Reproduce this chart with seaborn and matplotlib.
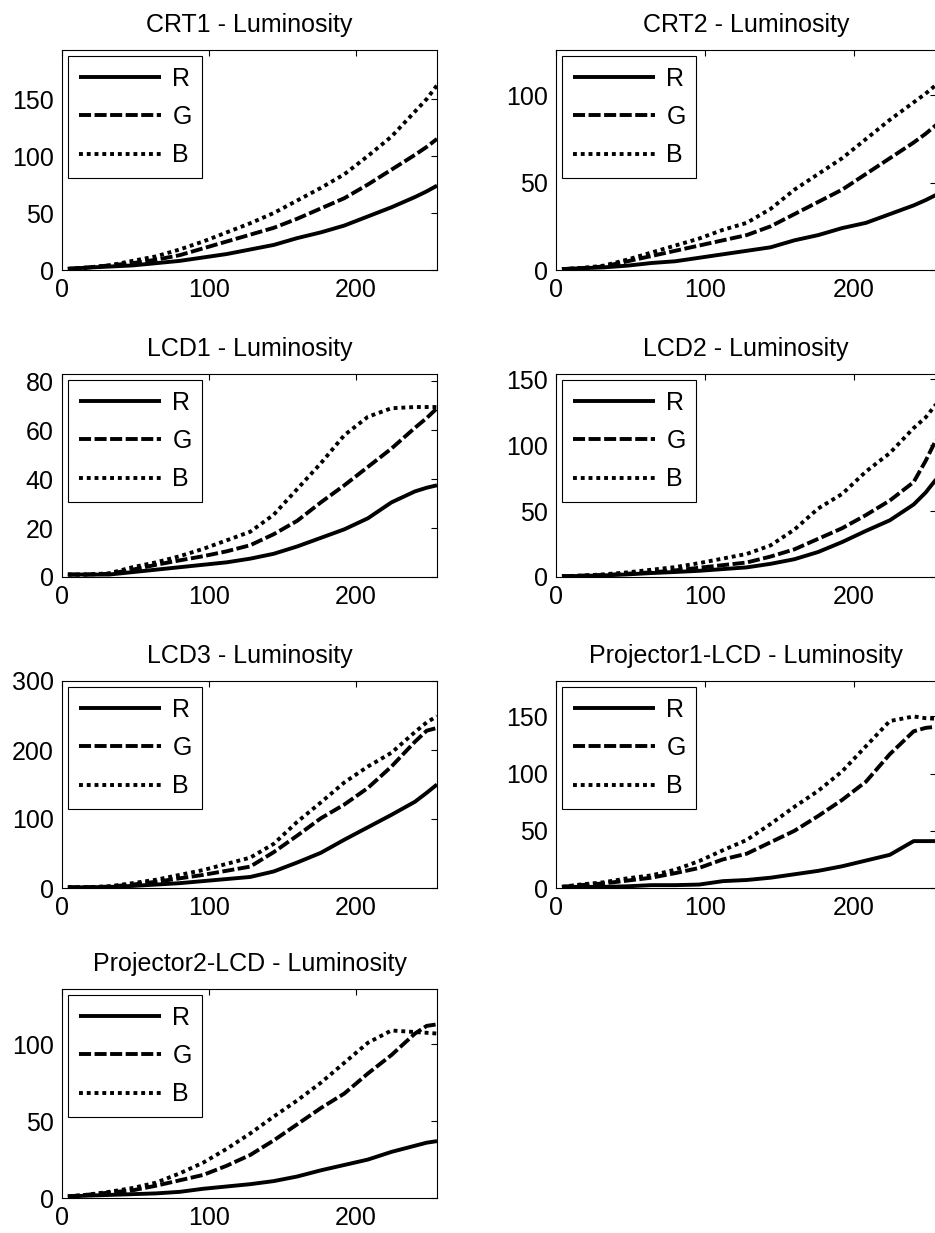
import numpy as np
import pandas as pd
import matplotlib
matplotlib.use("Agg")
import matplotlib.pyplot as plt
import seaborn as sns

# ---------------- data ----------------
x_levels = [4, 16, 32, 48, 64, 80, 96, 112, 128, 144, 160, 176, 192, 208, 224, 240, 248, 255]
channels = ["R", "G", "B"]

titles = ["CRT1 - Luminosity", "CRT2 - Luminosity", "LCD1 - Luminosity",
          "LCD2 - Luminosity", "LCD3 - Luminosity", "Projector1-LCD - Luminosity",
          "Projector2-LCD - Luminosity"]

crt1_R = [1, 2, 3, 4, 6, 8, 11, 14, 18, 22, 28, 33, 39, 47, 55, 64, 69, 74]
crt1_G = [1, 2, 4, 6, 9, 13, 19, 25, 31, 37, 45, 54, 63, 75, 88, 101, 108, 115]
crt1_B = [1, 2, 4, 8, 12, 18, 25, 33, 41, 50, 61, 72, 84, 100, 117, 139, 150, 162]

crt2_R = [0.5, 1, 1.5, 2.5, 4, 5, 7, 9, 11, 13, 17, 20, 24, 27, 32, 37, 40, 43]
crt2_G = [0.5, 1, 2, 5, 8, 11, 14, 17, 20, 25, 32, 39, 46, 55, 64, 73, 78, 83]
crt2_B = [0.5, 1, 2.5, 6, 10, 14, 18, 23, 27, 35, 46, 55, 64, 75, 86, 96, 101, 106]

lcd1_R = [1, 1, 1, 2, 3, 4, 5, 6, 7.5, 9.5, 12.5, 16, 19.5, 24, 30.5, 35, 36.5, 37.5]
lcd1_G = [1, 1, 1.3, 3, 5, 6.8, 8.5, 10.5, 13, 17.5, 23, 30.5, 37.5, 45, 52.5, 61, 65, 69]
lcd1_B = [1, 1, 1.5, 4, 6, 8.5, 11.5, 15, 18.5, 25.5, 36, 46.5, 58, 65.5, 69, 69.5, 69.5, 69.5]

lcd2_R = [0.5, 0.8, 1.2, 2, 3, 3.8, 4.7, 6, 7.3, 10, 13.5, 19, 26.5, 35, 43, 55, 64, 74]
lcd2_G = [0.5, 1, 1.5, 2.5, 3.5, 5, 7, 9, 11, 15.5, 21, 29, 37, 47, 58, 72, 88, 104]
lcd2_B = [0.5, 1, 2, 3.5, 5.5, 7.5, 10.5, 14, 17.5, 24, 36, 52, 63, 80, 94, 113, 121, 131]

lcd3_R = [1, 1, 1.5, 3, 5, 7, 10, 13, 16, 24, 37, 51, 70, 88, 106, 125, 138, 150]
lcd3_G = [1, 1, 2, 5, 9, 14, 19, 25, 31, 52, 76, 101, 121, 145, 176, 212, 228, 232]
lcd3_B = [1, 1, 2.5, 7, 12, 19, 26, 35, 44, 64, 96, 124, 153, 176, 196, 226, 240, 249]

proj1_R = [1, 1, 1, 1.5, 2.5, 2.5, 3, 6, 7, 9, 12, 15, 19, 24, 29, 41, 41, 41]
proj1_G = [1, 2.5, 4, 6.5, 9, 13, 17.5, 25, 30, 40, 50, 63, 77, 93, 117, 137, 140, 141]
proj1_B = [1, 3, 5, 8.5, 11, 16, 23.5, 33, 42, 56, 71, 85, 102, 124, 146, 150, 148.5, 148]

proj2_R = [1, 1.5, 2, 2.5, 3, 4, 6, 7.5, 9, 11, 14, 18, 21.5, 25, 30, 34, 36, 37]
proj2_G = [1, 2, 3.5, 5, 8, 11.5, 15, 21, 28, 37.5, 48, 58.5, 68, 81, 93, 107, 112, 113]
proj2_B = [1, 2, 4, 6.5, 10, 16, 23, 32, 42, 53, 63.5, 75, 88, 101, 109, 108, 107.5, 107]

series = [
    (crt1_R, crt1_G, crt1_B),
    (crt2_R, crt2_G, crt2_B),
    (lcd1_R, lcd1_G, lcd1_B),
    (lcd2_R, lcd2_G, lcd2_B),
    (lcd3_R, lcd3_G, lcd3_B),
    (proj1_R, proj1_G, proj1_B),
    (proj2_R, proj2_G, proj2_B),
]
ylims = [193, 126, 83, 154, 300, 181, 136]
yticks = [[0, 50, 100, 150], [0, 50, 100], [0, 20, 40, 60, 80], [0, 50, 100, 150],
          [0, 100, 200, 300], [0, 50, 100, 150], [0, 50, 100]]
xticks = [0, 100, 200]

# ---------------- style ----------------
sns.set_theme(style="white")
plt.rcParams["font.family"] = ["Liberation Sans", "DejaVu Sans"]
plt.rcParams["text.color"] = "black"
plt.rcParams["axes.labelcolor"] = "black"
FS = 18

W, H = 935, 1233
fig = plt.figure(figsize=(W / 100, H / 100), dpi=100)
fig.patch.set_facecolor("white")

cols = [(62, 437), (556, 936)]
rows = [(50, 270), (374, 577), (681, 888), (989, 1198)]

dash_styles = [None, (3.1, 0.9), (1.0, 1.0)]

for i in range(7):
    r, c = divmod(i, 2)
    x0, x1 = cols[c]
    y0, y1 = rows[r]
    ax = fig.add_axes([x0 / W, 1 - y1 / H, (x1 - x0) / W, (y1 - y0) / H])
    for ch, ys in zip(channels, series[i]):
        sns.lineplot(x=x_levels, y=ys, ax=ax, color="black", lw=2.8,
                     errorbar=None, sort=False, legend=False)
    lines = ax.get_lines()
    for ln, ds in zip(lines, dash_styles):
        if ds is not None:
            ln.set_dashes(ds)
        ln.set_solid_capstyle("butt")
        ln.set_dash_capstyle("butt")
    ax.set_xlim(0, 255)
    ax.set_ylim(0, ylims[i])
    ax.set_xticks(xticks)
    ax.set_yticks(yticks[i])
    ax.tick_params(direction="in", length=4, width=0.8, top=True, right=True,
                   labelsize=FS, pad=6, colors="black")
    for sp in ax.spines.values():
        sp.set_color("black")
        sp.set_linewidth(0.8)
    ax.set_title(titles[i], fontsize=FS, pad=13, color="black")
    ax.set_xlabel("")
    ax.set_ylabel("")
    leg = ax.legend(lines[:3], channels, loc="upper left", fontsize=FS,
                    frameon=True, fancybox=False, edgecolor="black",
                    framealpha=1, handlelength=3.3, handletextpad=0.45,
                    borderpad=0.42, labelspacing=0.57, borderaxespad=0.25,
                    labelcolor="black")
    leg.get_frame().set_linewidth(0.8)

fig.savefig("out.png", dpi=100, facecolor="white")
